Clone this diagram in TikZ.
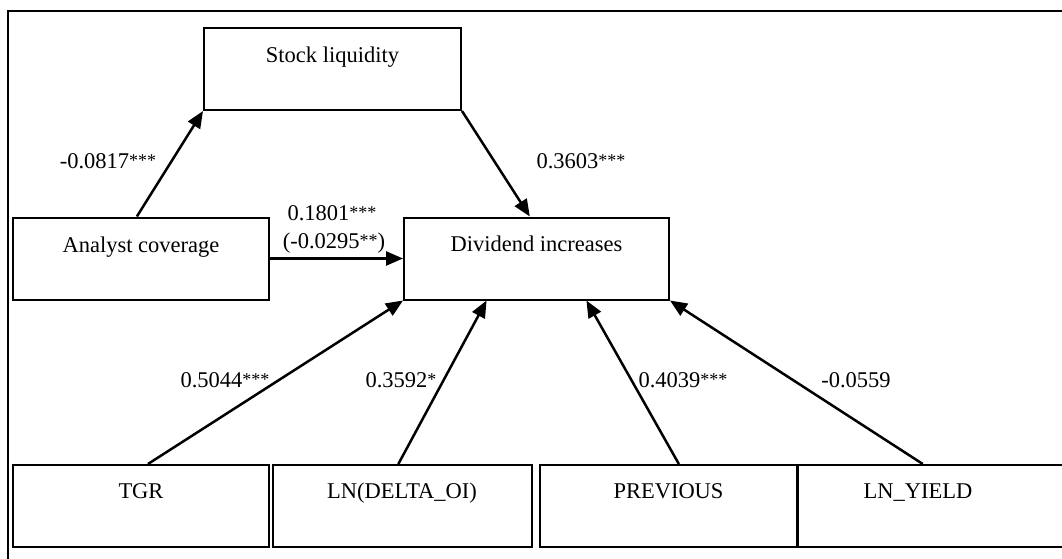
\documentclass[tikz,border=0pt]{standalone}
\usepackage{fontspec}
\setmainfont{Liberation Serif}
\usetikzlibrary{arrows.meta,calc}
\newcommand\sigstars[1]{\raisebox{1.5pt}{\fontsize{18}{20}\selectfont#1}}
\begin{document}
\begin{tikzpicture}[x=1pt,y=-1pt,
  boxn/.style={draw,line width=2pt,inner sep=0pt,minimum height=82pt},
  lbl/.style={inner sep=0pt,anchor=base,font=\fontsize{22.5}{27}\selectfont},
  arr/.style={line width=2.5pt,-{Triangle[length=17pt,width=14pt]}},
  frame/.style={line width=2pt}]
\useasboundingbox (0,0) rectangle (1062,559);
\clip (0,0) rectangle (1062,559);
\draw[frame] (8,11) rectangle (1080,580);
% boxes
\node[boxn,minimum width=257pt] (sl) at (332.5,69) {};
\node[boxn,minimum width=256pt] (ac) at (141,258.5) {};
\node[boxn,minimum width=265pt] (di) at (536.5,258.5) {};
\node[boxn,minimum width=256pt] (tgr) at (141,506) {};
\node[boxn,minimum width=259pt] (ldo) at (402,506) {};
\node[boxn,minimum width=257pt] (prv) at (668.5,506) {};
\node[boxn,minimum width=280pt] (lyd) at (938,506) {};
% texts
\node[lbl] (slt) at (332.5,63) {Stock liquidity};
\node[lbl] (act) at (141,252) {Analyst coverage};
\node[lbl] (dit) at (536.5,251) {Dividend increases};
\node[lbl] (tgrt) at (141,498) {TGR};
\node[lbl] (ldot) at (402,498) {LN(DELTA\_OI)};
\node[lbl] (prvt) at (668.5,498) {PREVIOUS};
\node[lbl] (lydt) at (918,498) {LN\_YIELD};
% arrows
\draw[arr] ($(ac.north west)!0.484!(ac.north east)$) -- (sl.south west);
\draw[arr] (sl.south east) -- ($(di.north west)!0.475!(di.north east)$);
\draw[arr] (ac.east) -- (di.west);
\draw[arr] ($(tgr.north west)!0.527!(tgr.north east)$) -- (di.south west);
\draw[arr] ($(ldo.north west)!0.486!(ldo.north east)$) -- ($(di.south west)!0.313!(di.south east)$);
\draw[arr] ($(prv.north west)!0.54!(prv.north east)$) -- ($(di.south west)!0.687!(di.south east)$);
\draw[arr] ($(lyd.north west)!0.446!(lyd.north east)$) -- (di.south east);
% coefficient labels
\node[lbl] (c1) at (108,168) {-0.0817\sigstars{***}};
\node[lbl] (c2) at (332,220) {0.1801\sigstars{***}};
\node[lbl] (c3) at (334,248) {(-0.0295\sigstars{**})};
\node[lbl] (c4) at (581,168) {0.3603\sigstars{***}};
\node[lbl] (c5) at (225,387) {0.5044\sigstars{***}};
\node[lbl] (c6) at (401,387) {0.3592\sigstars{*}};
\node[lbl] (c7) at (683,387) {0.4039\sigstars{***}};
\node[lbl] (c8) at (856,387) {-0.0559};
\end{tikzpicture}
\end{document}
